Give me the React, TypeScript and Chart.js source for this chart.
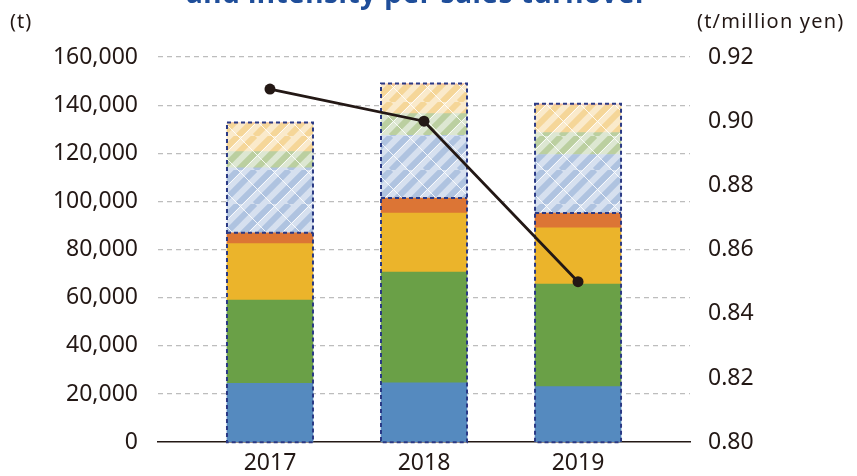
import React, { useEffect, useRef } from 'react';
import { Chart, registerables } from 'chart.js';

Chart.register(...registerables);

const categories = ['2017', '2018', '2019'];
const solidBlue = [24500, 24700, 23100];
const solidGreen = [34500, 46000, 42600];
const solidYellow = [23500, 24500, 23300];
const solidOrange = [4500, 6200, 6200];
const hatchBlue = [27000, 26100, 24300];
const hatchGreen = [6700, 9000, 9100];
const hatchYellow = [11600, 11800, 11200];
const hatchOrange = [500, 700, 800];
const intensity = [0.91, 0.9, 0.85];

const TEXT = '#231815';

function makePattern(base: string, stripe: string) {
  const T = 34;
  const c = document.createElement('canvas');
  c.width = T;
  c.height = T;
  const g = c.getContext('2d')!;
  g.fillStyle = base;
  g.fillRect(0, 0, T, T);
  g.strokeStyle = stripe;
  g.lineWidth = 6;
  for (let o = -2 * T; o <= 2 * T; o += T / 2) {
    g.beginPath();
    g.moveTo(o, T);
    g.lineTo(o + T, 0);
    g.stroke();
  }
  g.strokeStyle = 'rgba(255,255,255,0.85)';
  g.lineWidth = 1;
  for (let o = -T; o <= T; o += T) {
    g.beginPath();
    g.moveTo(o, 0);
    g.lineTo(o + T, T);
    g.stroke();
  }
  for (let o = -2 * T; o <= 2 * T; o += T) {
    g.beginPath();
    g.moveTo(o + 5, T);
    g.lineTo(o + T + 5, 0);
    g.stroke();
  }
  return g.createPattern(c, 'repeat')!;
}

const sumAt = (arrs: number[][], i: number) => arrs.reduce((s, a) => s + a[i], 0);
const solidArrs = [solidBlue, solidGreen, solidYellow, solidOrange];
const allArrs = [...solidArrs, hatchBlue, hatchGreen, hatchYellow, hatchOrange];

const outlinePlugin = {
  id: 'barOutline',
  beforeDatasetDraw(chart: any, args: any) {
    if (args.meta.type !== 'line') return;
    const ctx = chart.ctx;
    const ys = chart.scales.y;
    const meta0 = chart.getDatasetMeta(0);
    ctx.save();
    ctx.setLineDash([4, 3]);
    ctx.strokeStyle = '#2B3A85';
    ctx.lineWidth = 2;
    categories.forEach((_, i) => {
      const el = meta0.data[i];
      const w = el.width;
      const x = el.x;
      const yT = ys.getPixelForValue(sumAt(allArrs, i));
      const yS = ys.getPixelForValue(sumAt(solidArrs, i));
      const yB = ys.getPixelForValue(0);
      ctx.strokeRect(x - w / 2, yT, w, yB - yT);
      ctx.beginPath();
      ctx.moveTo(x - w / 2, yS);
      ctx.lineTo(x + w / 2, yS);
      ctx.stroke();
    });
    ctx.restore();
  },
};

export default function App() {
  const ref = useRef<HTMLCanvasElement>(null);
  useEffect(() => {
    const toXY = (arr: number[]) => arr.map((v, i) => ({ x: i, y: v }));
    const bar = (label: string, arr: number[], color: any) => ({
      type: 'bar' as const,
      label,
      data: toXY(arr),
      backgroundColor: color,
      borderWidth: 0,
      stack: 's',
      yAxisID: 'y',
      order: 1,
      barThickness: 86,
    });
    const font = { family: '"Noto Sans", sans-serif', size: 23 };
    const chart = new Chart(ref.current!, {
      type: 'bar',
      data: {
        datasets: [
          bar('solidBlue', solidBlue, '#558ABF'),
          bar('solidGreen', solidGreen, '#6AA047'),
          bar('solidYellow', solidYellow, '#EBB42B'),
          bar('solidOrange', solidOrange, '#DC7535'),
          bar('hatchBlue', hatchBlue, makePattern('#D6E0EF', '#AFC3E0')),
          bar('hatchGreen', hatchGreen, makePattern('#DDE7D2', '#BBCFA0')),
          bar('hatchYellow', hatchYellow, makePattern('#FAEACB', '#F5D698')),
          bar('hatchOrange', hatchOrange, makePattern('#F8D8C5', '#F1BC9C')),
          {
            type: 'line' as const,
            label: 'intensity',
            data: toXY(intensity),
            yAxisID: 'y1',
            borderColor: TEXT,
            backgroundColor: TEXT,
            borderWidth: 2.8,
            pointRadius: 5.5,
            pointBackgroundColor: TEXT,
            pointBorderWidth: 0,
            order: 0,
          } as any,
        ],
      },
      options: {
        animation: false,
        responsive: false,
        devicePixelRatio: 1,
        layout: { padding: { top: 57, left: 0, right: 0, bottom: 0 } },
        plugins: { legend: { display: false }, tooltip: { enabled: false } },
        scales: {
          x: {
            type: 'linear',
            offset: false,
            min: -0.727,
            max: 2.727,
            stacked: true,
            grid: { display: false, drawTicks: false },
            border: { display: true, color: TEXT, width: 1.5 },
            afterBuildTicks: (s: any) => {
              s.ticks = categories.map((_, i) => ({ value: i }));
            },
            afterFit: (s: any) => {
              s.height = 32;
            },
            ticks: {
              color: TEXT,
              font: { ...font, lineHeight: '22px' },
              padding: 10,
              maxRotation: 0,
              autoSkip: false,
              callback: (v: any) => categories[v] ?? '',
            },
          },
          y: {
            type: 'linear',
            position: 'left',
            stacked: true,
            min: 0,
            max: 160000,
            ticks: {
              stepSize: 20000,
              color: TEXT,
              font,
              padding: 20,
              callback: (v: any) => Number(v).toLocaleString('en-US'),
            },
            grid: {
              drawTicks: false,
              lineWidth: 1.2,
              color: (c: any) => (c.tick && c.tick.value === 0 ? 'rgba(0,0,0,0)' : '#BDBDBD'),
            },
            border: { display: false, dash: [5, 4] },
            afterFit: (s: any) => {
              s.width = 158;
            },
          },
          y1: {
            type: 'linear',
            position: 'right',
            min: 0.8,
            max: 0.92,
            ticks: {
              stepSize: 0.02,
              color: TEXT,
              font,
              padding: 18,
              callback: (v: any) => Number(v).toFixed(2),
            },
            grid: { display: false, drawTicks: false },
            border: { display: false },
            afterFit: (s: any) => {
              s.width = 167;
            },
          },
        },
      } as any,
      plugins: [outlinePlugin],
    });
    return () => chart.destroy();
  }, []);

  return (
    <div
      style={{
        position: 'fixed',
        left: 0,
        top: 0,
        width: 857,
        height: 476,
        overflow: 'hidden',
        background: '#fff',
        fontFamily: '"Noto Sans", sans-serif',
        color: TEXT,
      }}
    >
      <canvas ref={ref} width={857} height={476} style={{ position: 'absolute', left: 0, top: 0 }} />
      <div
        style={{
          position: 'absolute',
          left: 0,
          width: 834,
          top: -22,
          textAlign: 'center',
          fontSize: 28,
          lineHeight: '28px',
          fontWeight: 700,
          color: '#1F4E9A',
          whiteSpace: 'nowrap',
          letterSpacing: 0.5,
        }}
      >
        and intensity per sales turnover
      </div>
      <div style={{ position: 'absolute', left: 10, top: 11, fontSize: 20, lineHeight: '20px', letterSpacing: 1 }}>(t)</div>
      <div
        style={{
          position: 'absolute',
          left: 697,
          top: 11,
          fontSize: 20,
          lineHeight: '20px',
          whiteSpace: 'nowrap',
          letterSpacing: 1.2,
        }}
      >
        (t/million yen)
      </div>
    </div>
  );
}
